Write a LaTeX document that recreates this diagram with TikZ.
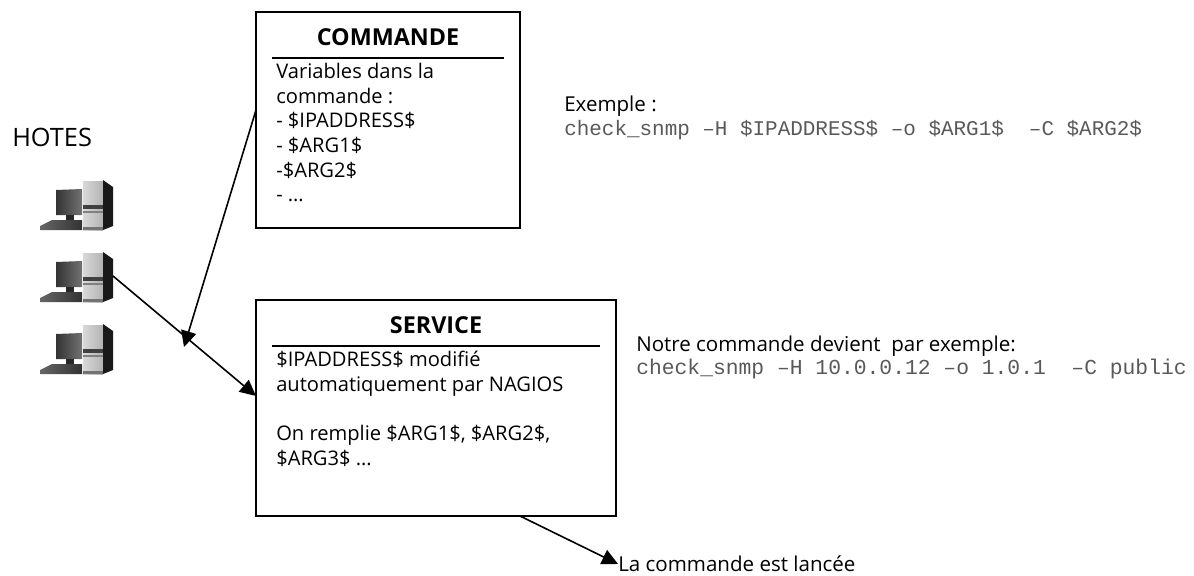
\documentclass[tikz,border=0pt]{standalone}
\usepackage{fontspec}
\setmainfont{Open Sans}
\setmonofont{Liberation Mono}
\usetikzlibrary{arrows.meta,positioning}
\tikzset{
    titre/.style={font=\fontsize{17.5pt}{20pt}\selectfont\bfseries,anchor=center,inner sep=0pt},
    corps/.style={font=\fontsize{15.1pt}{18.5pt}\selectfont,align=left,anchor=north west,inner sep=0pt},
    note/.style={font=\fontsize{15.4pt}{18pt}\selectfont,anchor=west,inner sep=0pt},
    code/.style={font=\fontsize{#1}{18pt}\selectfont\ttfamily,text=black!65,anchor=west,inner sep=0pt},
    fleche/.style={line width=1.2pt,-{Triangle[length=12pt,width=11.5pt]}},
    pics/hote/.style={code={
        % clavier
        \shade[left color=black!60,right color=black!80](0,50)--(0,46)--(12,40)--(42,40)--(42,50)--cycle;
        % ecran
        \shade[left color=black!80,right color=black!55](16,10)--(42,9)--(42,35)--(16,35)--cycle;
        \fill[black!85](26,35)rectangle(34,40);
        % tour
        \shade[left color=black!15,right color=black!30](43,1)rectangle(63,50);
        \fill[black!90](63,0)--(73,7)--(73,46)--(63,50)--cycle;
        \fill[black!75](43,25)rectangle(63,29);
        \fill[black!50](43,31)rectangle(63,33);
        \fill[black!55](43,47)rectangle(63,50);
    }}
}
\begin{document}
\begin{tikzpicture}[x=0.75pt,y=-0.75pt]
    \useasboundingbox(0,0)rectangle(1194,575);
    % les deux boites
    \draw[line width=1.1pt](256,12)rectangle(520,228);
    \draw[line width=1.1pt](256,300)rectangle(616,516);
    \coordinate(cmdG)at(256,110);
    \coordinate(svcG)at(256,396);
    \coordinate(svcB)at(520,516);
    \draw[line width=1.1pt](272,58)--(504,58);
    \draw[line width=1.1pt](272,346)--(600,346);
    \node[titre](cmdT)at(388,37){COMMANDE};
    \node[titre](svcT)at(436,325){SERVICE};
    \node[corps](cmdC)at(276,63){Variables dans la\\commande :\\- \$IPADDRESS\$\\- \$ARG1\$\\-\$ARG2\$\\- …};
    \node[corps](svcC)at(276,351){\$IPADDRESS\$ modifié\\automatiquement par NAGIOS\\[18.5pt]On remplie \$ARG1\$, \$ARG2\$,\\\$ARG3\$ …};
    % hotes
    \node[font=\fontsize{19pt}{22pt}\selectfont,anchor=west,inner sep=0pt](hotes)at(12,137){HOTES};
    \foreach \y/\n in {180/a,252/b,324/c}{
        \pic at(40,\y){hote};
        \coordinate(h\n)at(113,\y+24);
    }
    \coordinate(milieu)at(184,347);
    \draw[fleche](hb)--(svcG);
    \draw[fleche](cmdG)--(milieu);
    % texte de droite
    \node[note](ex1)at(564,106){Exemple :};
    \node[code=15.7pt](ex2)at(564,130){check\_snmp –H \$IPADDRESS\$ –o \$ARG1\$~~–C \$ARG2\$};
    \node[note](not1)at(636,346){Notre commande devient~~par exemple:};
    \node[code=16pt](not2)at(636,369){check\_snmp –H 10.0.0.12 –o 1.0.1~~–C public};
    \node[note](lance)at(618,564){La commande est lancée};
    \draw[fleche](svcB)--(lance.west);
\end{tikzpicture}
\end{document}
